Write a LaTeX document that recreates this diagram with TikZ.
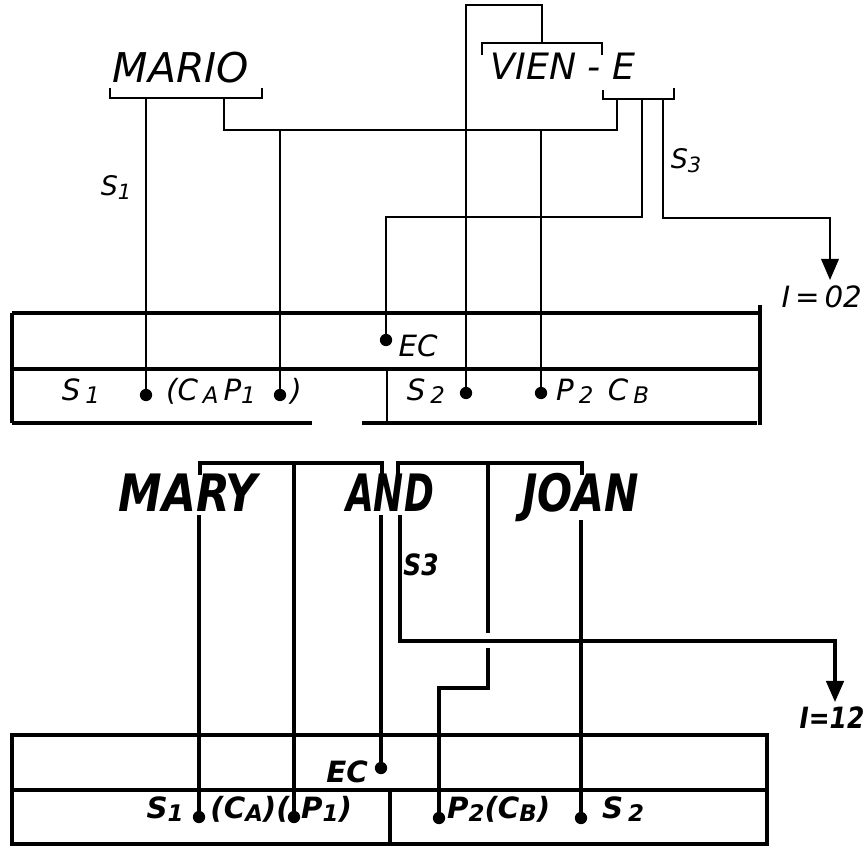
\documentclass[tikz,border=0pt]{standalone}
\usepackage{fontspec}
\setmainfont{DejaVu Sans}
\newfontfamily\hand[FakeStretch=0.85]{DejaVu Sans}
\usetikzlibrary{arrows.meta}
\newcommand\lowsub[1]{\raisebox{-0.12em}{\scalebox{0.78}{#1}}}
\begin{document}
\begin{tikzpicture}[x=0.03cm,y=-0.03cm,
  thinl/.style={line width=1.7pt},
  midl/.style={line width=2.6pt},
  bigl/.style={line width=4pt},
  dotn/.style={circle,fill,inner sep=0pt,minimum size=10.5pt},
  lbl/.style={inner sep=0pt,anchor=base},
  fbig/.style={font=\fontsize{35}{40}\selectfont\itshape},
  fvien/.style={font=\fontsize{31}{36}\selectfont\itshape},
  fsmall/.style={font=\fontsize{23}{26}\selectfont\itshape},
  ftab/.style={font=\fontsize{25}{30}\selectfont\itshape},
  fiz/.style={font=\fontsize{25}{30}\selectfont\itshape},
  fmid/.style={font=\hand\fontsize{44}{50}\selectfont\bfseries\itshape},
  fmidsm/.style={font=\hand\fontsize{25}{30}\selectfont\bfseries\itshape},
  frow/.style={font=\fontsize{25}{30}\selectfont\bfseries\itshape},
  arr/.style={-{Triangle[width=15pt,length=18pt]}}]
\useasboundingbox (0,0) rectangle (864,847);

% ---------- top words ----------
\node[lbl,fbig] (mario) at (181,83) {MARIO};
\node[lbl,fvien] (viene) at (563,80) {VIEN - E};
\node[lbl,fsmall] (s1lab) at (116,196) {S\lowsub{1}};
\node[lbl,fsmall] (s3lab) at (686,169) {S\lowsub{3}};
\node[lbl,fiz,anchor=base east] (i02) at (862,308) {I\,=\,02};

% brackets
\coordinate (mLt) at (110,88); \coordinate (mL) at (110,98);
\coordinate (mR) at (262,98);  \coordinate (mRt) at (262,88);
\draw[thinl] (mLt) -- (mL) -- (mR) -- (mRt);
\coordinate (vL) at (482,55); \coordinate (vLt) at (482,43);
\coordinate (vRt) at (602,43); \coordinate (vR) at (602,55);
\draw[thinl] (vL) -- (vLt) -- (vRt) -- (vR);
\coordinate (eL) at (603,90); \coordinate (eLb) at (603,99);
\coordinate (eRb) at (674,99); \coordinate (eR) at (674,88);
\draw[thinl] (eL) -- (eLb) -- (eRb) -- (eR);

% top dots
\node[dotn] (d1) at (146,395) {};
\node[dotn] (d2) at (280,395) {};
\node[dotn] (d3) at (386,340) {};
\node[dotn] (d4) at (466,393) {};
\node[dotn] (d5) at (541,393) {};

% top connectors
\draw[thinl] (d1) -- (d1 |- mL);
\coordinate (j1) at (224,98); \coordinate (j2) at (224,130);
\coordinate (j3) at (617,130); \coordinate (j4) at (617,99);
\draw[thinl] (j1) -- (j2) -- (j3) -- (j4);
\draw[thinl] (d2) -- (d2 |- j2);
\draw[thinl] (d5) -- (d5 |- j2);
\coordinate (t1) at (542,43); \coordinate (t2) at (542,5); \coordinate (t3) at (466,5);
\draw[thinl] (t1) -- (t2) -- (t3) -- (d4);
\coordinate (k1) at (642,99); \coordinate (k2) at (642,217);
\draw[thinl] (k1) -- (k2) -| (d3);
\coordinate (q1) at (663,99); \coordinate (q2) at (663,218); \coordinate (qa) at (830,280);
\draw[thinl,arr] (q1) -- (q2) -| (qa);

% top table
\draw[midl] (12,313) -- (760,313);
\draw[midl] (12,369) -- (760,369);
\draw[bigl] (12,313) -- (12,423);
\draw[midl] (12,423) -- (312,423);
\draw[midl] (362,423) -- (757,423);
\draw[midl] (760,305) -- (760,425);
\draw[thinl] (387,369) -- (387,423);

\node[lbl,ftab] (ts1) at (81,400) {S\,\lowsub{1}};
\node[lbl,ftab,anchor=base west] (tca) at (166,400) {(C\,\lowsub{A}\,P\lowsub{1}};
\node[lbl,ftab] (tcl) at (296,400) {)};
\node[lbl,ftab] (tec) at (418,357) {EC};
\node[lbl,ftab] (ts2) at (426,400) {S\,\lowsub{2}};
\node[lbl,ftab,anchor=base west] (tp2) at (556,400) {P\,\lowsub{2}\enspace C\,\lowsub{B}};

% ---------- middle words ----------
\node[lbl,fmid] (mary) at (188,511) {MARY};
\node[lbl,fmid] (and) at (390,511) {\scalebox{0.82}[1]{AND}};
\node[lbl,fmid] (joan) at (581,511) {\scalebox{0.94}[1]{JOAN}};
\node[lbl,fmidsm] (s3b) at (421,575) {S3};
\node[lbl,fmidsm] (i12) at (832,728) {I=12};

\coordinate (aL) at (200,475); \coordinate (aLt) at (200,463);
\coordinate (aRt) at (382,463); \coordinate (aR) at (382,475);
\draw[midl] (aL) -- (aLt) -- (aRt) -- (aR);
\coordinate (bL) at (398,475); \coordinate (bLt) at (398,463);
\coordinate (bRt) at (582,463); \coordinate (bR) at (582,475);
\draw[midl] (bL) -- (bLt) -- (bRt) -- (bR);

% bottom dots
\node[dotn] (b1) at (199,817) {};
\node[dotn] (b2) at (294,817) {};
\node[dotn] (b3) at (381,768) {};
\node[dotn] (b4) at (439,818) {};
\node[dotn] (b5) at (581,818) {};

\coordinate (m1) at (199,515);
\draw[midl] (m1) -- (b1);
\coordinate (m2) at (294,463);
\draw[midl] (m2) -- (b2);
\coordinate (m3) at (381,515);
\draw[midl] (m3) -- (b3);
\coordinate (n1) at (488,463); \coordinate (n2) at (488,633);
\draw[midl] (n1) -- (n2);
\coordinate (n3) at (488,648); \coordinate (n4) at (488,688);
\draw[midl] (n3) -- (n4) -| (b4);
\coordinate (p1) at (400,515); \coordinate (p2) at (400,641); \coordinate (pa) at (835,702);
\draw[midl,arr] (p1) -- (p2) -| (pa);
\coordinate (jn) at (581,520);
\draw[midl] (jn) -- (b5);

% bottom table
\draw[bigl] (12,735) rectangle (767,844);
\draw[bigl] (12,790) -- (767,790);
\draw[midl] (390,790) -- (390,844);

\node[lbl,frow] (bec) at (347,782) {EC};
\node[lbl,frow] (bs1) at (165,818) {S\lowsub{1}};
\node[lbl,frow,anchor=base east] (bca) at (290,818) {(C\lowsub{A})(};
\node[lbl,frow,anchor=base west] (bp1) at (301,818) {P\lowsub{1})};
\node[lbl,frow,anchor=base west] (bp2) at (447,818) {P\lowsub{2}(C\lowsub{B})};
\node[lbl,frow] (bs2) at (623,818) {S\,\lowsub{2}};
\end{tikzpicture}
\end{document}
